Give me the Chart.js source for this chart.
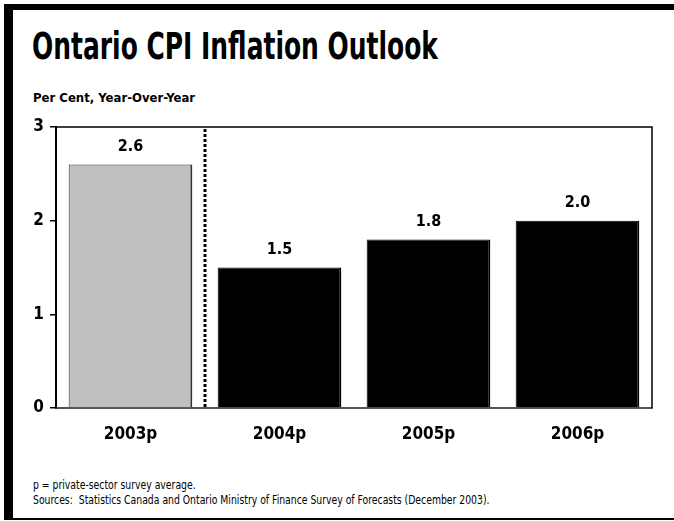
<!DOCTYPE html>
<html>
<head>
<meta charset="utf-8">
<script src="https://cdn.jsdelivr.net/npm/chart.js@4"></script>
<style>
  html, body { margin:0; padding:0; background:#fff; overflow:hidden; width:100%; height:100%; }
  body { position:relative;
         font-family:"Liberation Sans Narrow","DejaVu Sans Condensed",sans-serif; }
  #frameTop { position:absolute; left:4px; top:4px; right:0; height:6px; background:#000; }
  #frameLeft { position:absolute; left:4px; top:4px; width:9px; height:516px; background:#000; }
  #frameBottom { position:absolute; left:4px; top:518px; right:0; height:2px; background:#000; }
  #title { position:absolute; left:32px; top:25px; font-size:37px; font-weight:bold; color:#000; white-space:nowrap;
           transform:scaleX(0.75); transform-origin:0 0; }
  #subtitle { position:absolute; left:33px; top:90px; font-size:13px; font-weight:bold; color:#000; white-space:nowrap; }
  #notes { position:absolute; left:33px; top:478px; font-size:12px; line-height:15px; color:#000; white-space:nowrap;
           transform:scaleX(0.86); transform-origin:0 0; }
  #wrap { position:absolute; left:0; top:110px; width:674px; height:340px; }
</style>
</head>
<body>
<div id="frameTop"></div>
<div id="frameLeft"></div>
<div id="frameBottom"></div>
<div id="title">Ontario CPI Inflation Outlook</div>
<div id="subtitle">Per Cent, Year-Over-Year</div>
<div id="notes">p = private-sector survey average.<br>Sources:&nbsp; Statistics Canada and Ontario Ministry of Finance Survey of Forecasts (December 2003).</div>
<div id="wrap"><canvas id="c"></canvas></div>
<script>
const categories = ["2003p", "2004p", "2005p", "2006p"];
const inflation = [2.6, 1.5, 1.8, 2.0];
const valueLabels = ["2.6", "1.5", "1.8", "2.0"];
const yTicks = [0, 1, 2, 3];
const barColors = ["#c0c0c0", "#000000", "#000000", "#000000"];

const FONT = '"Liberation Sans Narrow","DejaVu Sans Condensed",sans-serif';

const decor = {
  id: 'decor',
  afterDatasetsDraw(chart) {
    const ctx = chart.ctx, a = chart.chartArea, x = chart.scales.x;
    ctx.save();
    ctx.strokeStyle = '#000'; ctx.lineWidth = 1.5;
    ctx.beginPath();
    ctx.moveTo(a.left, a.top); ctx.lineTo(a.right, a.top); ctx.lineTo(a.right, a.bottom);
    ctx.stroke();
    const sx = (x.getPixelForValue(0) + x.getPixelForValue(1)) / 2;
    ctx.setLineDash([3, 2]); ctx.lineWidth = 3;
    ctx.beginPath(); ctx.moveTo(sx, a.top + 2); ctx.lineTo(sx, a.bottom); ctx.stroke();
    ctx.setLineDash([]);
    const meta = chart.getDatasetMeta(0);
    ctx.fillStyle = '#000';
    ctx.font = 'bold 16px ' + FONT;
    ctx.textAlign = 'center'; ctx.textBaseline = 'bottom';
    meta.data.forEach((bar, i) => {
      ctx.fillText(valueLabels[i], bar.x, bar.y - 10);
    });
    ctx.restore();
  }
};

new Chart(document.getElementById('c'), {
  type: 'bar',
  data: {
    labels: categories,
    datasets: [{
      data: inflation,
      backgroundColor: barColors,
      borderColor: ['#333', '#000', '#000', '#000'],
      borderWidth: {top: 1, left: 1, right: 2, bottom: 0},
      borderSkipped: false,
      categoryPercentage: 0.83,
      barPercentage: 1.0
    }]
  },
  options: {
    responsive: true,
    maintainAspectRatio: false,
    animation: false,
    devicePixelRatio: 1,
    layout: { padding: { left: 0, right: 22, top: 17, bottom: 0 } },
    plugins: { legend: { display: false }, tooltip: { enabled: false } },
    scales: {
      x: {
        grid: { display: false, drawTicks: false },
        border: { display: true, color: '#555', width: 2 },
        ticks: { color: '#000', font: { family: FONT, size: 17, weight: 'bold' }, padding: 16 },
        afterFit(s) { s.height = 42; }
      },
      y: {
        min: 0, max: 3,
        afterBuildTicks(s) { s.ticks = yTicks.map(v => ({ value: v })); },
        grid: { drawOnChartArea: false, drawTicks: true, tickLength: 6, color: '#000', lineWidth: 1.5 },
        border: { display: true, color: '#000', width: 2 },
        ticks: { color: '#000', font: { family: FONT, size: 17, weight: 'bold' }, padding: 6 },
        afterFit(s) { s.width = 56; }
      }
    }
  },
  plugins: [decor]
});
</script>
</body>
</html>
